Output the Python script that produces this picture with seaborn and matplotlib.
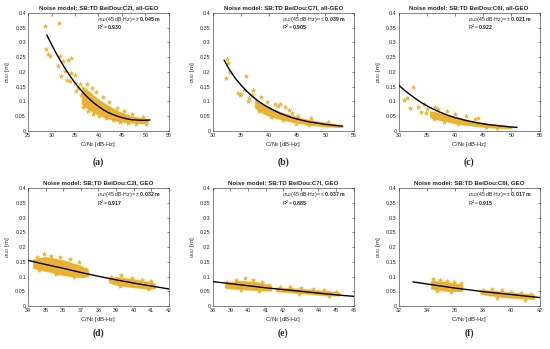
import matplotlib
matplotlib.use("Agg")
import matplotlib.pyplot as plt
import seaborn as sns
import pandas as pd

# -----------------------------
# values
# -----------------------------
titles = ["Noise model: SB:TD BeiDou:C2I, all-GEO", "Noise model: SB:TD BeiDou:C7I, all-GEO",
          "Noise model: SB:TD BeiDou:C6I, all-GEO", "Noise model: SB:TD BeiDou:C2I, GEO",
          "Noise model: SB:TD BeiDou:C7I, GEO", "Noise model: SB:TD BeiDou:C6I, GEO"]
sigma45 = ["0.045", "0.039", "0.021", "0.032", "0.037", "0.017"]
r2 = ["0.930", "0.905", "0.922", "0.917", "0.885", "0.915"]
panel_tags = ["a", "b", "c", "d", "e", "f"]
xlims = [(25, 55), (30, 55), (30, 55), (34, 42), (38, 46), (32, 42)]
xsteps = [5, 5, 5, 1, 1, 2]

# fitted curves
fit_a_x = [29, 30, 31, 32, 33, 34, 35, 36, 37, 38, 39, 40, 41, 42, 43, 44, 45, 46, 47, 48, 49, 50, 51]
fit_a_y = [0.325, 0.293, 0.263, 0.235, 0.209, 0.185, 0.163, 0.143, 0.125, 0.109, 0.095, 0.083,
           0.072, 0.063, 0.056, 0.050, 0.045, 0.041, 0.038, 0.037, 0.036, 0.036, 0.037]
fit_b_x = [32, 33, 34, 35, 36, 37, 38, 39, 40, 41, 42, 43, 44, 45, 46, 47, 48, 49, 50, 51, 52, 53]
fit_b_y = [0.240, 0.206, 0.178, 0.155, 0.135, 0.117, 0.102, 0.089, 0.078, 0.068, 0.059, 0.052,
           0.045, 0.040, 0.035, 0.031, 0.028, 0.025, 0.022, 0.020, 0.018, 0.016]
fit_c_x = [30, 31, 32, 33, 34, 35, 36, 37, 38, 39, 40, 41, 42, 43, 44, 45, 46, 47, 48, 49, 50, 51]
fit_c_y = [0.155, 0.138, 0.123, 0.109, 0.096, 0.085, 0.075, 0.066, 0.058, 0.051, 0.045, 0.040,
           0.035, 0.031, 0.027, 0.024, 0.021, 0.019, 0.017, 0.015, 0.013, 0.012]
fit_d_x = [34, 35, 36, 37, 38, 39, 40, 41, 42]
fit_d_y = [0.155, 0.141, 0.128, 0.114, 0.101, 0.089, 0.078, 0.068, 0.058]
fit_e_x = [38, 39, 40, 41, 42, 43, 44, 45, 46]
fit_e_y = [0.083, 0.076, 0.069, 0.062, 0.056, 0.050, 0.044, 0.038, 0.033]
fit_f_x = [33, 34, 35, 36, 37, 38, 39, 40, 41, 42]
fit_f_y = [0.082, 0.075, 0.068, 0.061, 0.055, 0.049, 0.044, 0.039, 0.034, 0.029]

# dense part of each cloud: lower / upper edge
band_a_x = [36.5, 37, 38, 39, 40, 41, 42, 43, 44, 45, 46, 47, 48, 49, 50, 50.5]
band_a_lo = [0.092, 0.085, 0.073, 0.063, 0.056, 0.049, 0.043, 0.039, 0.035, 0.032, 0.030, 0.029, 0.028, 0.027, 0.027, 0.031]
band_a_hi = [0.150, 0.145, 0.132, 0.118, 0.105, 0.095, 0.085, 0.076, 0.068, 0.060, 0.054, 0.049, 0.046, 0.043, 0.041, 0.039]
band_b_x = [37.5, 38, 39, 40, 41, 42, 43, 44, 45, 46, 47, 48, 49, 50, 51, 52, 53]
band_b_lo = [0.080, 0.072, 0.060, 0.052, 0.046, 0.041, 0.036, 0.032, 0.028, 0.025, 0.022, 0.020, 0.018, 0.016, 0.015, 0.014, 0.014]
band_b_hi = [0.106, 0.100, 0.088, 0.078, 0.070, 0.063, 0.057, 0.051, 0.046, 0.041, 0.037, 0.033, 0.030, 0.027, 0.024, 0.021, 0.019]
band_c_x = [35.6, 36, 37, 38, 39, 40, 41, 42, 43, 44, 45, 46, 47, 48, 49, 50]
band_c_lo = [0.048, 0.044, 0.039, 0.035, 0.031, 0.027, 0.024, 0.021, 0.019, 0.017, 0.015, 0.013, 0.012, 0.011, 0.010, 0.010]
band_c_hi = [0.066, 0.065, 0.060, 0.055, 0.050, 0.046, 0.041, 0.037, 0.033, 0.029, 0.026, 0.023, 0.021, 0.019, 0.017, 0.015]
band_d_x = [34.3, 35, 36, 37, 37.4, None, 38.6, 39, 40, 41, 41.2]
band_d_lo = [0.130, 0.120, 0.106, 0.098, 0.102, None, 0.081, 0.073, 0.065, 0.059, 0.062]
band_d_hi = [0.158, 0.166, 0.154, 0.136, 0.120, None, 0.093, 0.098, 0.090, 0.080, 0.074]
band_e_x = [38.7, 39.5, 40.5, 41.3, None, 41.6, 42.5, 43.5, 44.5, 45.2]
band_e_lo = [0.063, 0.059, 0.055, 0.053, None, 0.051, 0.047, 0.042, 0.037, 0.037]
band_e_hi = [0.078, 0.085, 0.080, 0.068, None, 0.062, 0.060, 0.055, 0.050, 0.045]
band_f_x = [34.3, 35, 35.8, 36.5, None, 37.8, 38.5, 39.5, 40.5, 41.6]
band_f_lo = [0.060, 0.054, 0.051, 0.053, None, 0.042, 0.037, 0.031, 0.028, 0.025]
band_f_hi = [0.085, 0.082, 0.078, 0.072, None, 0.053, 0.052, 0.048, 0.043, 0.038]

# loose points around the clouds
pts_a_x = [28.6, 31.6, 28.9, 29.3, 29.6, 31.9, 31.4, 32.4, 33.5, 34.2, 32.8, 32.1, 34.2, 34.9, 33.2,
           33.9, 34.9, 35.6, 35.3, 36.0, 36.2, 37.5, 38.6, 39.4, 41.0, 42.3, 44.0, 45.5, 47.2, 49.5, 50.2,
           36.8, 37.8, 38.9, 40.2, 41.6, 43.1, 44.6, 46.2, 48.0]
pts_a_y = [0.357, 0.366, 0.276, 0.259, 0.253, 0.253, 0.219, 0.236, 0.242, 0.247, 0.202, 0.185, 0.197,
           0.191, 0.174, 0.168, 0.163, 0.146, 0.134, 0.160, 0.120, 0.160, 0.145, 0.132, 0.115, 0.098,
           0.078, 0.066, 0.056, 0.048, 0.025, 0.082, 0.068, 0.058, 0.050, 0.044, 0.036, 0.030, 0.027, 0.025]
pts_b_x = [32.5, 32.3, 32.7, 33.0, 35.8, 34.5, 35.0, 34.8, 35.5, 36.5, 37.2, 37.0, 36.2, 41.5, 42.0,
           42.8, 43.5, 44.0, 41.0, 45.2, 38.5, 39.6, 47.5, 50.5, 38.2, 40.3, 42.4, 44.8, 47.0]
pts_b_y = [0.245, 0.178, 0.230, 0.200, 0.185, 0.130, 0.125, 0.120, 0.140, 0.110, 0.140, 0.120, 0.100,
           0.085, 0.092, 0.080, 0.070, 0.062, 0.090, 0.052, 0.115, 0.098, 0.045, 0.030, 0.066, 0.048,
           0.038, 0.025, 0.019]
pts_c_x = [32.5, 31.0, 32.0, 31.5, 34.5, 33.5, 34.0, 35.0, 34.8, 36.5, 37.0, 42.0, 44.0, 43.5, 38.5, 40.0,
           36.3, 38.0, 40.5, 45.5, 47.5]
pts_c_y = [0.150, 0.105, 0.078, 0.110, 0.090, 0.080, 0.065, 0.075, 0.060, 0.080, 0.075, 0.050, 0.045,
           0.040, 0.068, 0.058, 0.040, 0.031, 0.024, 0.013, 0.010]
pts_d_x = [34.5, 34.9, 35.3, 35.8, 36.4, 36.9, 37.3, 34.6, 35.6, 36.6, 38.7, 39.3, 39.9, 40.5, 41.0, 39.2, 40.8]
pts_d_y = [0.168, 0.176, 0.170, 0.165, 0.160, 0.148, 0.125, 0.122, 0.110, 0.098, 0.098, 0.104, 0.096,
           0.090, 0.085, 0.068, 0.058]
pts_e_x = [38.8, 39.3, 39.8, 40.3, 40.8, 41.2, 39.6, 40.6, 41.8, 42.4, 43.0, 43.7, 44.3, 45.0, 42.9, 44.6]
pts_e_y = [0.082, 0.090, 0.094, 0.088, 0.080, 0.072, 0.056, 0.052, 0.066, 0.065, 0.060, 0.058, 0.054,
           0.048, 0.042, 0.034]
pts_f_x = [34.4, 34.9, 35.4, 35.9, 36.4, 34.7, 35.7, 38.0, 38.6, 39.3, 40.0, 40.7, 41.4, 39.0, 41.0]
pts_f_y = [0.092, 0.090, 0.086, 0.082, 0.078, 0.050, 0.048, 0.056, 0.057, 0.053, 0.049, 0.046, 0.042,
           0.028, 0.022]

fits = [(fit_a_x, fit_a_y), (fit_b_x, fit_b_y), (fit_c_x, fit_c_y),
        (fit_d_x, fit_d_y), (fit_e_x, fit_e_y), (fit_f_x, fit_f_y)]
bands = [(band_a_x, band_a_lo, band_a_hi), (band_b_x, band_b_lo, band_b_hi), (band_c_x, band_c_lo, band_c_hi),
         (band_d_x, band_d_lo, band_d_hi), (band_e_x, band_e_lo, band_e_hi), (band_f_x, band_f_lo, band_f_hi)]
points = [(pts_a_x, pts_a_y), (pts_b_x, pts_b_y), (pts_c_x, pts_c_y),
          (pts_d_x, pts_d_y), (pts_e_x, pts_e_y), (pts_f_x, pts_f_y)]

# -----------------------------
# style
# -----------------------------
sns.set_style("white")
plt.rcParams['font.family'] = ['Liberation Sans', 'DejaVu Sans']
plt.rcParams['mathtext.fontset'] = 'custom'
plt.rcParams['mathtext.rm'] = 'Liberation Sans'
plt.rcParams['mathtext.it'] = 'Liberation Sans:italic'
plt.rcParams['mathtext.bf'] = 'Liberation Sans:bold'

DOT = "#EDB120"
CORE = "#E4A418"
EDGE = "#262626"

fig = plt.figure(figsize=(5.5, 3.49), dpi=100)
lefts = [0.051, 0.387, 0.725]
bottoms = [0.625, 0.123]


def split_segments(xs, lo, hi):
    segs, cur = [], ([], [], [])
    for a, b, c in zip(xs, lo, hi):
        if a is None:
            segs.append(cur)
            cur = ([], [], [])
        else:
            cur[0].append(a); cur[1].append(b); cur[2].append(c)
    segs.append(cur)
    return segs


for i in range(6):
    ax = fig.add_axes([lefts[i % 3], bottoms[i // 3], 0.256, 0.338])

    for sx, slo, shi in split_segments(*bands[i]):
        ax.fill_between(sx, slo, shi, color=DOT, lw=1.2, edgecolor=DOT, alpha=0.75, zorder=1)
        ax.fill_between(sx, slo, shi, color=CORE, lw=0, alpha=0.5, zorder=1)

    df = pd.DataFrame({"x": points[i][0], "y": points[i][1]})
    sns.scatterplot(data=df, x="x", y="y", ax=ax, marker="*", s=11, color=DOT,
                    edgecolor=DOT, linewidth=0.3, zorder=2)

    fdf = pd.DataFrame({"x": fits[i][0], "y": fits[i][1]})
    sns.lineplot(data=fdf, x="x", y="y", ax=ax, color="black", lw=1.0, zorder=3)

    x0, x1 = xlims[i]
    ax.set_xlim(x0, x1)
    ax.set_ylim(0, 0.4)
    ax.set_xticks(list(range(x0, x1 + 1, xsteps[i])))
    ax.set_yticks([0, 0.05, 0.1, 0.15, 0.2, 0.25, 0.3, 0.35, 0.4])
    ax.set_yticklabels(["0", "0.05", "0.1", "0.15", "0.2", "0.25", "0.3", "0.35", "0.4"])
    ax.tick_params(direction="in", length=1.8, width=0.4, labelsize=3.9, pad=1.5,
                   top=True, right=True, colors=EDGE)
    for sp in ax.spines.values():
        sp.set_linewidth(0.4)
        sp.set_color(EDGE)

    ax.set_xlabel("C/N$_0$ [dB-Hz]", fontsize=4.3, labelpad=1.5, color=EDGE)
    ax.set_ylabel(r"$\sigma_{UD}$ [m]", fontsize=4.3, labelpad=2, color=EDGE)
    ax.set_title(titles[i], fontsize=4.4, fontweight="bold", pad=2.5)

    ax.text(0.49, 0.945, r"$\sigma_{UD}$(45 dB-Hz)= $\pm$ $\mathbf{" + sigma45[i] + r"\ m}$",
            transform=ax.transAxes, fontsize=3.8, va="center", ha="left")
    ax.text(0.49, 0.875, r"R$^2$= $\mathbf{" + r2[i] + "}$",
            transform=ax.transAxes, fontsize=3.8, va="center", ha="left")

    cx = lefts[i % 3] + 0.128
    cy = 0.535 if i < 3 else 0.045
    fig.text(cx, cy, "(" + panel_tags[i] + ")", ha="center", va="center", fontsize=7,
             family="Liberation Serif", fontweight="bold")

fig.savefig("out.png", dpi=100)
